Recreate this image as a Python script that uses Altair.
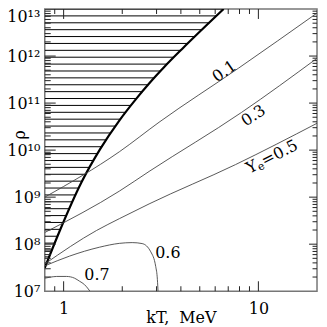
import altair as alt
import numpy as np
import pandas as pd

# ---- data ----
bound_kT = [0.8, 0.954, 1.235, 1.545, 1.931, 2.357, 2.747, 3.276, 4.046, 6.629]
bound_rho = [3.13e7, 1.905e8, 2.07e9, 1.074e10, 4.25e10, 1.23e11, 2.61e11, 5.78e11, 1.40e12, 1.0e13]

ye01_kT = [0.8, 1.931, 3.09, 7.91, 20]
ye01_rho = [1.0e9, 9.2e9, 3.91e10, 5.53e11, 8.2e12]
ye03_kT = [0.8, 1.931, 2.747, 8.19, 20]
ye03_rho = [1.77e8, 1.34e9, 3.52e9, 6.32e10, 8.96e11]
ye05_kT = [0.8, 1.474, 1.931, 2.747, 7.63, 20]
ye05_rho = [3.8e7, 1.95e8, 3.48e8, 7.18e8, 4.92e9, 3.72e10]
ye06_kT = [0.8, 1.073, 1.526, 1.931, 2.249, 2.53, 2.802, 2.971, 3.03, 3.053]
ye06_rho = [3.45e7, 5.58e7, 8.61e7, 1.04e8, 1.08e8, 1.03e8, 6.87e7, 3.33e7, 1.76e7, 1.0e7]
ye07_kT = [0.8, 0.848, 0.921, 1.036, 1.138, 1.207, 1.28, 1.326, 1.365]
ye07_rho = [1.89e7, 1.98e7, 2.06e7, 2.06e7, 1.89e7, 1.63e7, 1.38e7, 1.17e7, 1.0e7]

label_texts = ["0.1", "0.3", "0.6", "0.7"]
label_kT = [6.69, 9.43, 3.43, 1.482]
label_rho = [4.72e11, 5.4e10, 6.35e7, 2.23e7]
label_angle = [325, 326, 0, 0]
ye_label_kT = 10.92
ye_label_rho = 6.18e9
ye_label_angle = 333

x_label_values = [1, 10]
y_label_values = [1e7, 1e8, 1e9, 1e10, 1e11, 1e12, 1e13]
y_label_texts = ["10⁷", "10⁸", "10⁹", "10¹⁰", "10¹¹", "10¹²", "10¹³"]

x_major_ticks = [1, 10]
x_minor_ticks = [0.9, 2, 3, 4, 5, 6, 7, 8, 9]
y_major_ticks = [1e8, 1e9, 1e10, 1e11, 1e12]
y_minor_ticks = [m * 10.0 ** e for e in range(7, 13) for m in range(2, 10)]

# ---- layout / style ----
W, H = 274, 284
FONT = "DejaVu Serif"
FS = 16
X_TITLE = "kT,\u00a0 MeV"
xs = alt.Scale(type="log", domain=[0.8, 20], nice=False)
ys = alt.Scale(type="log", domain=[1e7, 1e13], nice=False)

# hatch pattern (horizontal lines left of the boundary)
hatch_step = 0.1464
hatch_log = np.array([13 - hatch_step * k for k in range(38)])
hatch_x2 = 10 ** np.interp(hatch_log, np.log10(bound_rho), np.log10(bound_kT))
hatch_df = pd.DataFrame({"kT": 0.8, "x2": hatch_x2, "rho": 10 ** hatch_log})

ylab_expr = " : ".join(
    f"datum.value < {v * 1.5:.0f} ? '{t}'" for v, t in zip(y_label_values[:-1], y_label_texts[:-1])
) + f" : '{y_label_texts[-1]}'"

x_axis = alt.Axis(
    values=x_label_values, format="d", ticks=False, domain=False, grid=False,
    labelFont=FONT, labelFontSize=FS, labelColor="black", labelPadding=9,
    title=X_TITLE, titleFont=FONT, titleFontSize=FS, titleFontWeight="normal",
    titleColor="black", titleBaseline="alphabetic", titleY=31,
)
y_axis = alt.Axis(
    values=y_label_values, labelExpr=ylab_expr, ticks=False, domain=False, grid=False,
    labelFont=FONT, labelFontSize=FS, labelColor="black", labelPadding=5,
    labelBaseline={"condition": {"test": "datum.value > 5e12", "value": "top"}, "value": "middle"},
    title="ρ", titleFont=FONT, titleFontSize=FS, titleFontWeight="normal", titleColor="black",
    titleAngle=270, titleX=-25, titleY=126, titleBaseline="middle", titleAlign="center",
)

X = alt.X("kT:Q", scale=xs, axis=x_axis, title=X_TITLE)
Y = alt.Y("rho:Q", scale=ys, axis=y_axis, title="ρ")

bound_df = pd.DataFrame({"kT": bound_kT, "rho": bound_rho, "i": range(len(bound_kT))})
boundary = alt.Chart(bound_df).mark_line(
    color="black", strokeWidth=2.2, clip=True, interpolate="monotone"
).encode(x=X, y=Y, order="i:Q")

hatch = alt.Chart(hatch_df).mark_rule(color="black", strokeWidth=1, clip=True).encode(
    x=X, x2="x2:Q", y=Y,
)

rows = []
for name, kx, ry in [("0.1", ye01_kT, ye01_rho), ("0.3", ye03_kT, ye03_rho),
                     ("0.5", ye05_kT, ye05_rho), ("0.6", ye06_kT, ye06_rho),
                     ("0.7", ye07_kT, ye07_rho)]:
    for i, (a, b) in enumerate(zip(kx, ry)):
        rows.append({"kT": a, "rho": b, "ye": name, "i": i})
ye_df = pd.DataFrame(rows)
ye_lines = alt.Chart(ye_df).mark_line(
    color="#444", strokeWidth=0.9, clip=True, interpolate="monotone"
).encode(x=X, y=Y, detail="ye:N", order="i:Q")


def tick_layer(vals, side, length):
    if side in ("bottom", "top"):
        df = pd.DataFrame({"kT": vals})
        y0, y1 = (H, H - length) if side == "bottom" else (0, length)
        return alt.Chart(df).mark_rule(color="#222", strokeWidth=1).encode(
            x=X, y=alt.value(y0), y2=alt.value(y1))
    df = pd.DataFrame({"rho": vals})
    x0, x1 = (0, length) if side == "left" else (W, W - length)
    return alt.Chart(df).mark_rule(color="#222", strokeWidth=1).encode(
        y=Y, x=alt.value(x0), x2=alt.value(x1))


ticks = [
    tick_layer(x_major_ticks, "bottom", 10), tick_layer(x_minor_ticks, "bottom", 5),
    tick_layer(x_major_ticks, "top", 10), tick_layer(x_minor_ticks, "top", 5),
    tick_layer(y_major_ticks, "left", 11), tick_layer(y_minor_ticks, "left", 6),
    tick_layer(y_major_ticks, "right", 8), tick_layer(y_minor_ticks, "right", 4.5),
]


def text_layer(t, kx, ry, ang, size=FS, dx=0, dy=0, align="center"):
    d = pd.DataFrame({"kT": [kx], "rho": [ry], "t": [t]})
    return alt.Chart(d).mark_text(font=FONT, fontSize=size, color="black", angle=ang,
                                  align=align, baseline="middle", dx=dx, dy=dy).encode(
        x=X, y=Y, text="t:N",
    )


texts = [text_layer(t, kx, ry, a) for t, kx, ry, a in zip(label_texts, label_kT, label_rho, label_angle)]
# "Y_e=0.5" built from pieces along the rotated baseline
texts += [
    text_layer("Y", ye_label_kT, ye_label_rho, ye_label_angle, dx=-21, align="left"),
    text_layer("e", ye_label_kT, ye_label_rho, ye_label_angle, size=11, dx=-10.5, dy=4, align="left"),
    text_layer("=0.5", ye_label_kT, ye_label_rho, ye_label_angle, dx=-4, align="left"),
]

chart = alt.layer(boundary, hatch, *ticks, ye_lines, *texts).properties(
    width=W, height=H,
    autosize=alt.AutoSizeParams(type="none"),
    padding={"left": 37, "top": 0, "right": 2, "bottom": 35},
).configure_view(stroke="#777", strokeWidth=1.5)

chart.save("out.html", embed_options={"renderer": "svg", "actions": False})
